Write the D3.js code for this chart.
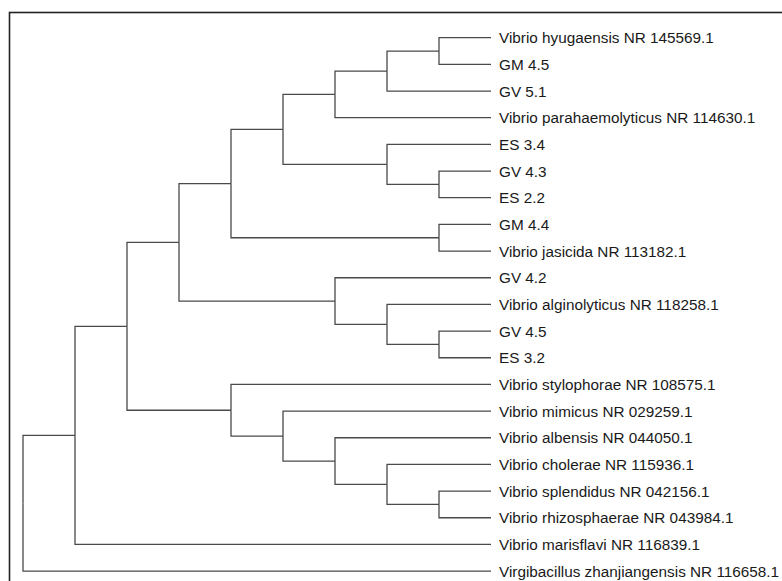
<!DOCTYPE html>
<html>
<head>
<meta charset="utf-8">
<script src="https://cdn.jsdelivr.net/npm/d3@7"></script>
<style>
  body { margin: 0; background: #fff; }
  svg { display: block; }
  .link { fill: none; stroke: #4a4a4a; stroke-width: 1.3; }
  .leaf text { font-family: "Liberation Sans", Arial, sans-serif; font-size: 15.3px; fill: #1a1a1a; }
</style>
</head>
<body>
<div id="chart"></div>
<script>
// leaf labels, top to bottom
var leafNames = [
  "Vibrio hyugaensis NR 145569.1",
  "GM 4.5",
  "GV 5.1",
  "Vibrio parahaemolyticus NR 114630.1",
  "ES 3.4",
  "GV 4.3",
  "ES 2.2",
  "GM 4.4",
  "Vibrio jasicida NR 113182.1",
  "GV 4.2",
  "Vibrio alginolyticus NR 118258.1",
  "GV 4.5",
  "ES 3.2",
  "Vibrio stylophorae NR 108575.1",
  "Vibrio mimicus NR 029259.1",
  "Vibrio albensis NR 044050.1",
  "Vibrio cholerae NR 115936.1",
  "Vibrio splendidus NR 042156.1",
  "Vibrio rhizosphaerae NR 043984.1",
  "Vibrio marisflavi NR 116839.1",
  "Virgibacillus zhanjiangensis NR 116658.1"
];

// topology as nested pairs of leaf indices
var topology = [[[[[[[[[0, 1], 2], 3], [4, [5, 6]]], [7, 8]], [9, [10, [11, 12]]]],
  [13, [14, [15, [16, [17, 18]]]]]], 19], 20];

var width = 782,
  height = 581,
  step = 26.67,                    // row spacing
  margin = { top: 37.7 - step / 2, left: 23 },
  treeW = 468,
  treeH = step * leafNames.length; // cluster pads half a row at each end

var svg = d3.select("#chart").append("svg")
  .attr("width", width)
  .attr("height", height);

// frame (runs off right and bottom edges)
svg.append("rect")
  .attr("x", 9.5).attr("y", 12.5)
  .attr("width", 800).attr("height", 600)
  .attr("fill", "none")
  .attr("stroke", "#222")
  .attr("stroke-width", 1.6);

var root = d3.hierarchy(topology, function(d) { return Array.isArray(d) ? d : null; });

d3.cluster()
  .size([treeH, treeW])
  .separation(function() { return 1; })(root);

var g = svg.append("g")
  .attr("transform", "translate(" + margin.left + "," + margin.top + ")");

// elbow links
g.selectAll(".link")
  .data(root.links())
  .enter().append("path")
    .attr("class", "link")
    .attr("d", function(d) {
      return "M" + d.source.y + "," + d.source.x +
        "V" + d.target.x + "H" + d.target.y;
    });

var leaf = g.selectAll(".leaf")
  .data(root.leaves())
  .enter().append("g")
    .attr("class", "leaf")
    .attr("transform", function(d) { return "translate(" + d.y + "," + d.x + ")"; });

leaf.append("text")
  .attr("x", 8)
  .attr("dy", "0.36em")
  .text(function(d) { return leafNames[d.data]; });
</script>
</body>
</html>
